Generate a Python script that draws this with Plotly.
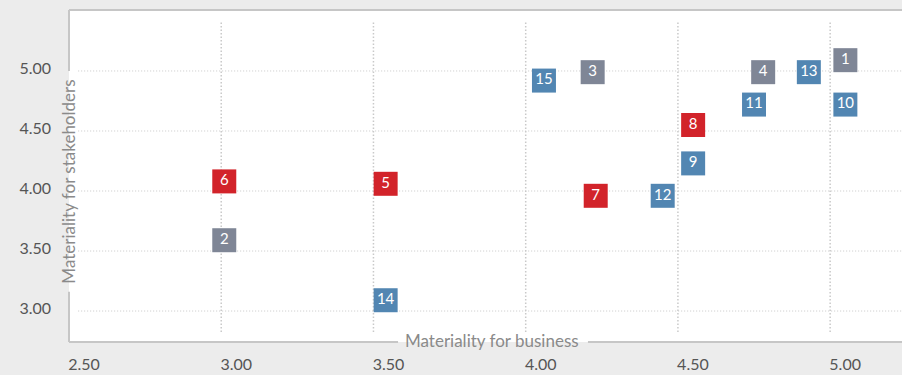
import plotly.graph_objects as go

# ---- data ----
labels = ["1", "2", "3", "4", "5", "6", "7", "8", "9", "10", "11", "12", "13", "14", "15"]
business = [5.05, 3.01, 4.22, 4.78, 3.54, 3.01, 4.23, 4.55, 4.55, 5.05, 4.75, 4.45, 4.93, 3.54, 4.06]
stakeholders = [5.09, 3.59, 4.99, 4.99, 4.06, 4.08, 3.96, 4.55, 4.23, 4.72, 4.72, 3.96, 4.99, 3.09, 4.92]
groups = ["grey", "grey", "grey", "grey", "red", "red", "red", "red",
          "blue", "blue", "blue", "blue", "blue", "blue", "blue"]

x_ticks = [2.5, 3.0, 3.5, 4.0, 4.5, 5.0]
x_tick_text = ["2.50", "3.00", "3.50", "4.00", "4.50", "5.00"]
y_ticks = [3.0, 3.5, 4.0, 4.5, 5.0]
y_tick_text = ["3.00", "3.50", "4.00", "4.50", "5.00"]

x_title = "Materiality for business"
y_title = "Materiality for stakeholders"

# ---- styles ----
group_colors = {"grey": "#7f8696", "red": "#d2232a", "blue": "#5286b2"}
FONT = "Lato, 'Open Sans', sans-serif"
BORDER = "#c6c6c6"
GRID = "#c9c9c9"

fig = go.Figure()
for g in ["grey", "red", "blue"]:
    idx = [i for i, gg in enumerate(groups) if gg == g]
    fig.add_trace(go.Scatter(
        x=[business[i] for i in idx],
        y=[stakeholders[i] for i in idx],
        text=[labels[i] for i in idx],
        mode="markers+text",
        textposition="middle center",
        textfont=dict(color="white", size=15, family=FONT),
        marker=dict(symbol="square", size=24, color=group_colors[g], line=dict(width=0)),
        showlegend=False,
        hoverinfo="skip",
        cliponaxis=False,
    ))

shapes = []
# dotted gridlines (inset)
for v in x_ticks[1:]:
    shapes.append(dict(type="line", xref="x", yref="paper", x0=v, x1=v, y0=0.03, y1=0.967,
                       line=dict(color=GRID, width=1.5, dash="1.5px,2px"), layer="below"))
for v in y_ticks:
    shapes.append(dict(type="line", xref="paper", yref="y", x0=0.011, x1=1, y0=v, y1=v,
                       line=dict(color=GRID, width=1, dash="1px,2px"), layer="below"))
# frame lines with gaps for the axis titles
shapes += [
    dict(type="line", xref="paper", yref="paper", x0=0, x1=1, y0=1, y1=1, line=dict(color=BORDER, width=2)),
    dict(type="line", xref="paper", yref="paper", x0=0, x1=0, y0=1, y1=0.816, line=dict(color=BORDER, width=2)),
    dict(type="line", xref="paper", yref="paper", x0=0, x1=0, y0=0.151, y1=0, line=dict(color=BORDER, width=2)),
    dict(type="line", xref="paper", yref="paper", x0=0, x1=0.395, y0=0, y1=0, line=dict(color=BORDER, width=2)),
    dict(type="line", xref="paper", yref="paper", x0=0.623, x1=1, y0=0, y1=0, line=dict(color=BORDER, width=2)),
]

annotations = [
    dict(text=y_title, xref="paper", yref="paper", x=0, y=0.483, xanchor="center", yanchor="middle",
         textangle=-90, showarrow=False, font=dict(size=17, color="#8a8a8a", family=FONT)),
    dict(text=x_title, xref="paper", yref="paper", x=0.508, y=0, xanchor="center", yanchor="middle",
         yshift=2, showarrow=False, font=dict(size=17, color="#8a8a8a", family=FONT)),
]

fig.update_layout(
    width=902, height=375,
    margin=dict(l=69, r=0, t=10, b=33),
    paper_bgcolor="#ececec",
    plot_bgcolor="white",
    shapes=shapes,
    annotations=annotations,
    font=dict(family=FONT, color="#555555"),
    xaxis=dict(range=[2.5, 5.236], tickvals=x_ticks, ticktext=x_tick_text,
               showgrid=False, zeroline=False, showline=False, ticks="",
               tickfont=dict(size=16, color="#555555", family=FONT),
               ticklabelshift=15, ticklabelstandoff=11),
    yaxis=dict(range=[2.742, 5.508], tickvals=y_ticks, ticktext=y_tick_text,
               showgrid=False, zeroline=False, showline=False, ticks="",
               tickfont=dict(size=16, color="#555555", family=FONT),
               ticklabelshift=-3, ticklabelstandoff=17),
)

fig.write_html(
    "out.html",
    config={"displayModeBar": False},
    post_script="document.body.style.margin='0';document.body.style.background='#ececec';document.body.style.overflow='hidden';",
)
